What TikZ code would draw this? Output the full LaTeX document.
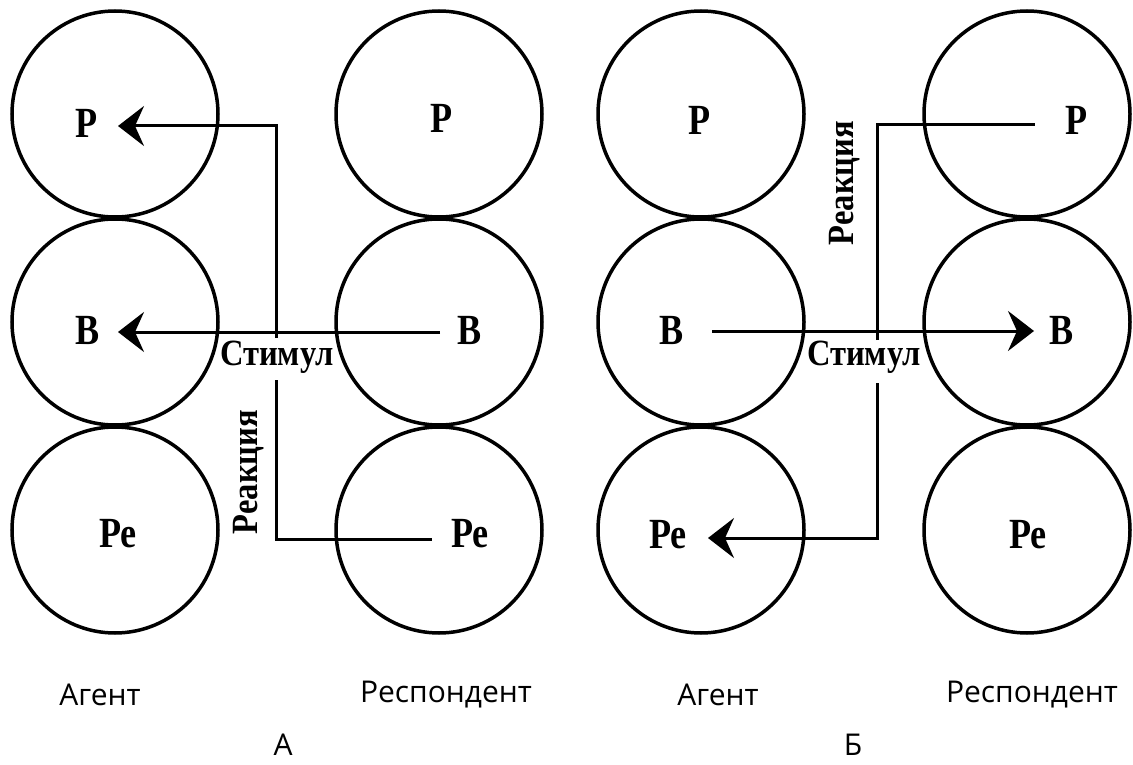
\documentclass[tikz,border=0pt]{standalone}
\usepackage{fontspec}
\setmainfont{Liberation Serif}
\newfontfamily\lblfont[FakeStretch=0.84]{Liberation Serif}
\newfontfamily\sidefont[FakeStretch=0.88]{Liberation Serif}
\newfontfamily\capfont{Open Sans}
\usetikzlibrary{arrows.meta}
\begin{document}
\begin{tikzpicture}[x=1pt,y=-1pt,
  ring/.style={draw, circle, line width=3.5pt, minimum size=206pt, inner sep=0pt},
  wire/.style={line width=3pt, line join=miter},
  tip/.style={-{Stealth[length=26pt,width=40pt,inset=9pt]}},
  lbl/.style={font=\lblfont\bfseries\fontsize{43}{43}\selectfont, inner sep=0pt},
  side/.style={font=\sidefont\bfseries\fontsize{37}{37}\selectfont, inner sep=0pt},
  captxt/.style={font=\capfont\fontsize{30}{30}\selectfont, inner sep=0pt}]
\useasboundingbox (0,0) rectangle (1133,765);
\fill[white] (0,0) rectangle (1133,765);
% ---- Diagram A ----
\node[ring] (aP)  at (115,114) {};
\node[ring] (aB)  at (115,322) {};
\node[ring] (aPe) at (115,530) {};
\node[ring] (rP)  at (439,114) {};
\node[ring] (rB)  at (439,322) {};
\node[ring] (rPe) at (439,530) {};
\node[lbl] (taP)  at (87,123) {Р};
\node[lbl] (taB)  at (88,330) {В};
\node[lbl] (taPe) at (118,534) {Ре};
\node[lbl] (trP)  at (442,118) {Р};
\node[lbl] (trB)  at (470,330) {В};
\node[lbl] (trPe) at (470,534) {Ре};
\coordinate (a1) at (276,338);
\coordinate (a2) at (276,126);
\coordinate (aTipP) at (118,126);
\coordinate (aStart) at (440,332);
\coordinate (aTipB) at (118,332);
\coordinate (a3) at (276,380);
\coordinate (a4) at (276,539);
\coordinate (a5) at (432,539);
\draw[wire,tip] (a1) -- (a2) -- (aTipP);
\draw[wire,tip] (aStart) -- (aTipB);
\draw[wire] (a3) -- (a4) -- (a5);
\node[side] (aStim) at (277,357) {Стимул};
\node[side, rotate=90] (aReac) at (249,472) {Реакция};
% ---- Diagram B ----
\node[ring] (bP)  at (701,114) {};
\node[ring] (bB)  at (701,322) {};
\node[ring] (bPe) at (701,530) {};
\node[ring] (sP)  at (1027,114) {};
\node[ring] (sB)  at (1027,322) {};
\node[ring] (sPe) at (1027,530) {};
\node[lbl] (tbP)  at (700,120) {Р};
\node[lbl] (tbB)  at (672,330) {В};
\node[lbl] (tbPe) at (668,535) {Ре};
\node[lbl] (tsP)  at (1077,120) {Р};
\node[lbl] (tsB)  at (1062,330) {В};
\node[lbl] (tsPe) at (1028,535) {Ре};
\coordinate (b1) at (877,340);
\coordinate (b2) at (877,125);
\coordinate (b3) at (1035,125);
\coordinate (bStart) at (712,331);
\coordinate (bTipB) at (1034,331);
\coordinate (b4) at (877,383);
\coordinate (b5) at (877,538);
\coordinate (bTipPe) at (708,538);
\draw[wire] (b1) -- (b2) -- (b3);
\draw[wire,tip] (bStart) -- (bTipB);
\draw[wire,tip] (b4) -- (b5) -- (bTipPe);
\node[side] (bStim) at (864,357) {Стимул};
\node[side, rotate=90] (bReac) at (845,183) {Реакция};
% ---- captions ----
\node[captxt] (c1) at (100,695) {Агент};
\node[captxt] (c2) at (446,695) {Респондент};
\node[captxt] (c3) at (718,695) {Агент};
\node[captxt] (c4) at (1032,695) {Респондент};
\node[captxt] (c5) at (283,745) {А};
\node[captxt] (c6) at (853,745) {Б};
\end{tikzpicture}
\end{document}
